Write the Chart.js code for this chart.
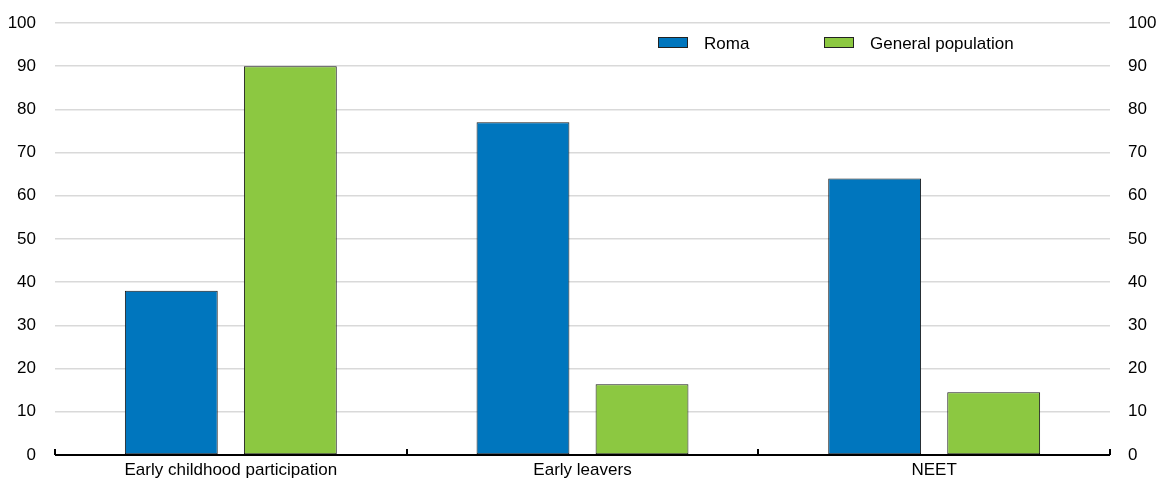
<!DOCTYPE html>
<html>
<head>
<meta charset="utf-8">
<script src="https://cdn.jsdelivr.net/npm/chart.js@4"></script>
<style>
  html, body { margin: 0; padding: 0; background: #fff; }
  #wrap { width: 1159px; height: 482px; position: relative; }
</style>
</head>
<body>
<div id="wrap"><canvas id="c"></canvas></div>
<script>
// Education outcomes, per cent
const categories = ['Early childhood participation', 'Early leavers', 'NEET'];
const romaValues = [38, 77, 64];
const generalValues = [90, 16.4, 14.5];
const seriesNames = ['Roma', 'General population'];
const yTicks = [0, 10, 20, 30, 40, 50, 60, 70, 80, 90, 100];

const FONT = { family: '"Liberation Sans", Arial, sans-serif', size: 17 };

// Legend drawn inside the plot, top right
const innerLegend = {
  id: 'innerLegend',
  afterDraw(chart) {
    const ctx = chart.ctx;
    const items = [
      { x: 658, label: chart.data.datasets[0].label, color: chart.data.datasets[0].backgroundColor },
      { x: 824, label: chart.data.datasets[1].label, color: chart.data.datasets[1].backgroundColor }
    ];
    ctx.save();
    ctx.font = FONT.size + 'px ' + FONT.family;
    ctx.textBaseline = 'middle';
    items.forEach(it => {
      ctx.fillStyle = it.color;
      ctx.fillRect(it.x, 37, 30, 11);
      ctx.strokeStyle = '#222';
      ctx.lineWidth = 1;
      ctx.strokeRect(it.x + 0.5, 37.5, 29, 10);
      ctx.fillStyle = '#000';
      ctx.fillText(it.label, it.x + 46, 44);
    });
    ctx.restore();
  }
};

// Category axis line with upward tick marks at group boundaries
const boundaryTicks = {
  id: 'boundaryTicks',
  afterDatasetsDraw(chart) {
    const area = chart.chartArea;
    const ctx = chart.ctx;
    const n = chart.data.labels.length;
    const w = (area.right - area.left) / n;
    ctx.save();
    ctx.strokeStyle = '#000';
    ctx.lineWidth = 2;
    ctx.beginPath();
    ctx.moveTo(area.left, area.bottom);
    ctx.lineTo(area.right, area.bottom);
    for (let i = 0; i <= n; i++) {
      const px = Math.round(area.left + i * w);
      ctx.moveTo(px, area.bottom);
      ctx.lineTo(px, area.bottom - 6);
    }
    ctx.stroke();
    ctx.restore();
  }
};

function fitValueAxis(width) {
  return function (s) {
    s.width = width;
    s.paddingTop = 0;
    s.paddingBottom = 0;
  };
}

new Chart(document.getElementById('c'), {
  type: 'bar',
  data: {
    labels: categories,
    datasets: [
      { label: seriesNames[0], data: romaValues, backgroundColor: '#0076be', borderColor: '#1a1a1a', borderWidth: 1, borderSkipped: false, yAxisID: 'y' },
      { label: seriesNames[1], data: generalValues, backgroundColor: '#8cc841', borderColor: '#1a1a1a', borderWidth: 1, borderSkipped: false, yAxisID: 'y' }
    ]
  },
  options: {
    responsive: true,
    maintainAspectRatio: false,
    animation: false,
    layout: { padding: { top: 23, left: 0, right: 0, bottom: 0 } },
    datasets: { bar: { categoryPercentage: 0.677, barPercentage: 0.78 } },
    plugins: { legend: { display: false }, tooltip: { enabled: false } },
    scales: {
      x: {
        grid: { display: false, drawTicks: false },
        border: { display: false },
        ticks: { color: '#000', font: FONT, padding: 5, maxRotation: 0 },
        afterFit(s) { s.height = 27; }
      },
      y: {
        position: 'left',
        min: 0, max: 100,
        afterBuildTicks(s) { s.ticks = yTicks.map(v => ({ value: v })); },
        grid: { color: '#d9d9d9', lineWidth: 1.5, drawTicks: false },
        border: { display: false },
        ticks: { color: '#000', font: FONT, padding: 19 },
        afterFit: fitValueAxis(55)
      },
      y2: {
        position: 'right',
        min: 0, max: 100,
        afterBuildTicks(s) { s.ticks = yTicks.map(v => ({ value: v })); },
        grid: { display: false, drawTicks: false },
        border: { display: false },
        ticks: { color: '#000', font: FONT, padding: 18 },
        afterFit: fitValueAxis(49)
      }
    }
  },
  plugins: [innerLegend, boundaryTicks]
});
</script>
</body>
</html>
